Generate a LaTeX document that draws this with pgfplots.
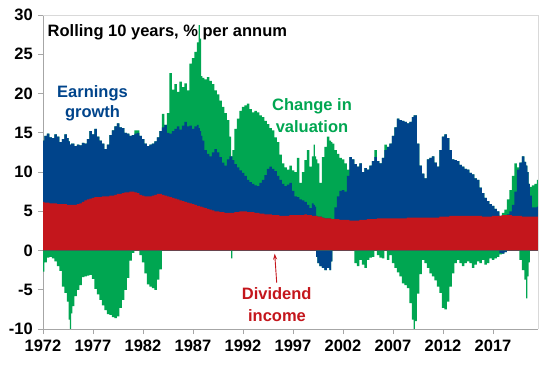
\documentclass[border=0pt]{standalone}
\usepackage{fontspec}
\setmainfont{Liberation Sans}
\usepackage{pgfplots}
\pgfplotsset{compat=1.18}
\usepackage{pgfplotstable}
\usetikzlibrary{arrows.meta}
\definecolor{cblue}{RGB}{0,68,139}
\definecolor{cgreen}{RGB}{0,166,81}
\definecolor{cred}{RGB}{196,22,28}
\pgfplotstableread{
yr D B G Bn Gn
1972.00 6.2 14.0 14.0 0 -2.7
1972.25 6.1 14.6 14.6 0 -1.5
1972.50 6.1 14.9 14.9 0 -0.9
1972.75 6.0 14.4 14.4 0 -0.8
1973.00 6.0 14.3 14.3 0 -1.0
1973.25 6.0 14.8 14.8 0 -1.4
1973.50 5.9 14.5 14.5 0 -2.0
1973.75 5.9 13.8 13.8 0 -2.6
1974.00 5.9 14.2 14.2 0 -4.6
1974.25 5.9 14.8 14.8 0 -5.4
1974.50 5.8 14.3 14.3 0 -6.5
1974.625 5.8 13.9 13.9 0 -8.8
1974.75 5.8 13.5 13.5 0 -10.0
1974.875 5.8 13.6 13.6 0 -8.0
1975.00 5.8 13.6 13.6 0 -7.1
1975.25 5.8 13.3 13.3 0 -5.8
1975.50 5.9 13.5 13.5 0 -5.0
1975.75 6.0 13.4 13.4 0 -4.4
1976.00 6.2 13.7 13.7 0 -3.4
1976.25 6.4 13.6 13.6 0 -3.3
1976.50 6.5 14.2 14.2 0 -3.2
1976.75 6.6 15.2 15.2 0 -3.1
1977.00 6.7 14.8 14.8 0 -3.6
1977.25 6.8 15.5 15.5 0 -4.9
1977.50 6.8 14.5 14.5 0 -5.6
1977.75 6.8 14.0 14.0 0 -6.3
1978.00 6.9 13.6 13.6 0 -7.0
1978.25 6.9 12.9 12.9 0 -7.6
1978.50 6.9 13.5 13.5 0 -8.1
1978.75 7.0 14.7 14.7 0 -8.2
1979.00 7.0 15.3 15.3 0 -8.5
1979.25 7.1 15.8 15.8 0 -8.6
1979.50 7.2 16.2 16.2 0 -8.4
1979.75 7.2 15.7 15.7 0 -7.3
1980.00 7.3 15.6 15.6 0 -6.3
1980.25 7.4 15.0 15.0 0 -5.0
1980.50 7.4 14.9 14.9 0 -3.5
1980.75 7.5 14.6 14.6 0 -1.3
1981.00 7.5 14.7 14.7 0 -0.3
1981.25 7.4 14.9 15.3 0 0
1981.50 7.3 15.0 15.3 0 0
1981.75 7.1 14.6 14.6 0 -0.6
1982.00 7.0 14.2 14.2 0 -1.5
1982.25 6.9 13.6 13.6 0 -2.9
1982.50 6.9 13.3 13.3 0 -4.3
1982.75 6.9 13.5 13.5 0 -4.6
1983.00 7.0 13.6 13.6 0 -4.8
1983.25 7.1 13.9 13.9 0 -5.0
1983.50 7.2 14.4 14.4 0 -3.7
1983.75 7.2 15.2 15.2 0 -2.4
1984.00 7.1 15.7 17.4 0 0
1984.25 7.0 16.0 16.0 0 0
1984.50 6.9 15.0 17.5 0 0
1984.75 6.8 14.9 22.6 0 0
1985.00 6.7 15.2 20.5 0 0
1985.25 6.6 15.5 21.2 0 0
1985.50 6.5 15.8 20.2 0 0
1985.75 6.4 15.4 21.5 0 0
1986.00 6.3 15.9 20.8 0 0
1986.25 6.2 16.4 21.3 0 0
1986.50 6.1 15.8 20.4 0 0
1986.75 6.0 15.9 23.8 0 0
1987.00 5.9 15.5 24.5 0 0
1987.25 5.8 15.8 25.3 0 0
1987.50 5.7 16.0 26.5 0 0
1987.625 5.7 15.6 28.7 0 0
1987.75 5.6 15.2 27.0 0 0
1987.875 5.6 14.6 22.2 0 0
1988.00 5.5 14.0 22.0 0 0
1988.25 5.4 12.8 21.8 0 0
1988.50 5.3 12.3 22.1 0 0
1988.75 5.2 12.0 21.6 0 0
1989.00 5.1 12.5 21.2 0 0
1989.25 5.0 12.9 20.4 0 0
1989.50 5.0 12.5 19.9 0 0
1989.75 4.9 11.9 19.1 0 0
1990.00 4.9 11.2 18.3 0 0
1990.25 4.8 10.8 17.5 0 0
1990.50 4.8 11.6 16.6 0 0
1990.75 4.8 12.0 14.5 0 0
1990.875 4.8 12.0 12.0 0 -1.0
1991.00 4.8 11.5 12.8 0 0
1991.25 4.9 11.0 15.5 0 0
1991.50 4.9 10.6 16.8 0 0
1991.75 5.0 10.2 17.8 0 0
1992.00 5.0 9.9 18.3 0 0
1992.25 5.0 9.5 18.5 0 0
1992.50 4.9 9.0 18.7 0 0
1992.75 4.9 8.7 18.0 0 0
1993.00 4.9 8.5 17.6 0 0
1993.25 4.8 8.3 17.8 0 0
1993.50 4.8 8.2 17.6 0 0
1993.75 4.7 8.6 17.2 0 0
1994.00 4.7 9.0 17.0 0 0
1994.25 4.6 9.6 16.5 0 0
1994.50 4.6 10.4 16.1 0 0
1994.75 4.6 10.7 15.6 0 0
1995.00 4.5 10.4 15.3 0 0
1995.25 4.5 10.1 14.4 0 0
1995.50 4.5 9.5 13.8 0 0
1995.75 4.4 9.0 12.2 0 0
1996.00 4.4 8.5 11.1 0 0
1996.25 4.4 8.2 10.6 0 0
1996.50 4.4 8.4 10.3 0 0
1996.75 4.5 8.6 10.8 0 0
1997.00 4.5 7.6 10.2 0 0
1997.25 4.5 6.9 10.0 0 0
1997.50 4.5 6.8 11.8 0 0
1997.75 4.5 6.5 8.6 0 0
1998.00 4.5 6.4 10.0 0 0
1998.25 4.6 6.2 11.5 0 0
1998.50 4.5 5.8 12.8 0 0
1998.75 4.5 5.4 10.7 0 0
1999.00 4.4 6.0 12.0 0 0
1999.125 4.4 5.8 13.5 0 0
1999.25 4.4 5.6 12.0 0 0
1999.375 4.4 4.4 11.6 -0.8 -0.8
1999.50 4.3 4.3 11.1 -1.6 -1.6
1999.75 4.3 4.3 8.6 -2.0 -2.0
2000.00 4.2 4.2 11.9 -2.2 -2.2
2000.25 4.1 4.1 13.2 -2.5 -2.5
2000.50 4.1 4.1 14.5 -2.2 -2.2
2000.75 4.1 4.1 14.0 -2.5 -2.5
2000.875 4.0 4.0 13.8 -1.4 -1.4
2001.00 4.0 4.0 13.6 0 0
2001.25 4.0 5.5 12.8 0 0
2001.50 4.0 6.9 12.3 0 0
2001.75 3.9 7.6 11.8 0 0
2002.00 3.9 7.7 11.6 0 0
2002.25 3.9 7.5 11.1 0 0
2002.50 3.9 9.5 10.3 0 0
2002.75 3.8 11.9 11.9 0 0
2003.00 3.8 11.6 11.6 0 0
2003.25 3.8 11.0 11.0 0 -1.6
2003.50 3.8 10.7 10.7 0 -2.0
2003.75 3.9 11.1 11.1 0 -1.2
2004.00 3.9 10.0 10.0 0 -1.8
2004.25 3.9 10.5 10.5 0 -2.2
2004.50 4.0 10.3 10.3 0 -1.2
2004.75 4.0 10.8 10.8 0 -0.9
2005.00 4.0 11.4 11.4 0 -0.8
2005.25 4.0 11.9 12.8 0 0
2005.50 4.1 11.4 11.4 0 -0.6
2005.75 4.1 11.1 11.1 0 -0.9
2006.00 4.1 11.8 11.8 0 -1.0
2006.25 4.1 12.8 13.5 0 0
2006.50 4.1 13.2 13.2 0 -1.2
2006.75 4.1 13.6 13.6 0 -0.6
2007.00 4.1 14.6 14.6 0 -1.6
2007.25 4.1 15.7 15.7 0 -2.2
2007.50 4.1 16.8 16.8 0 -2.8
2007.75 4.1 16.6 16.6 0 -3.3
2008.00 4.1 16.5 16.5 0 -4.2
2008.25 4.1 16.4 16.4 0 -4.4
2008.50 4.2 16.2 16.2 0 -4.8
2008.75 4.2 16.4 16.4 0 -6.7
2009.00 4.2 17.0 17.0 0 -8.8
2009.125 4.2 17.2 17.2 0 -10.0
2009.25 4.2 17.2 17.2 0 -9.0
2009.50 4.2 13.6 13.6 0 -5.5
2009.75 4.2 10.8 10.8 0 -3.0
2010.00 4.2 9.8 9.8 0 -1.2
2010.25 4.2 9.2 9.2 0 -1.6
2010.50 4.2 11.6 11.6 0 -2.2
2010.75 4.2 11.8 11.8 0 -2.9
2011.00 4.2 12.0 12.0 0 -3.3
2011.25 4.2 11.2 11.2 0 -3.8
2011.50 4.2 10.7 10.7 0 -4.6
2011.75 4.3 12.8 12.8 0 -5.4
2012.00 4.3 14.5 14.5 0 -7.3
2012.25 4.3 14.8 14.8 0 -7.5
2012.50 4.3 14.3 14.3 0 -6.5
2012.75 4.4 12.8 12.8 0 -4.6
2013.00 4.4 11.6 11.6 0 -2.9
2013.25 4.4 11.5 11.5 0 -1.6
2013.50 4.4 11.4 11.4 0 -1.2
2013.75 4.4 10.9 10.9 0 -1.6
2014.00 4.4 10.7 10.7 0 -2.0
2014.25 4.4 10.4 10.4 0 -1.6
2014.50 4.4 10.3 10.3 0 -1.4
2014.75 4.4 9.9 9.9 0 -1.6
2015.00 4.4 9.7 9.7 0 -2.2
2015.25 4.4 9.2 9.2 0 -1.8
2015.50 4.4 9.0 9.0 0 -1.4
2015.75 4.4 8.0 8.0 0 -1.6
2016.00 4.3 7.3 7.3 0 -1.2
2016.25 4.3 6.7 6.7 0 -1.8
2016.50 4.3 6.3 6.3 0 -1.6
2016.75 4.3 5.9 5.9 0 -1.0
2017.00 4.4 5.7 5.7 0 -1.2
2017.25 4.4 5.3 5.3 0 -1.0
2017.50 4.4 5.0 5.0 0 -0.8
2017.75 4.4 4.4 4.4 -0.3 -0.5
2018.00 4.5 4.5 4.8 -0.4 -0.4
2018.25 4.5 4.5 5.2 -0.2 -0.2
2018.50 4.5 4.6 6.5 0 0
2018.75 4.5 5.0 7.7 0 0
2019.00 4.4 5.8 9.5 0 0
2019.25 4.4 7.5 11.1 0 0
2019.50 4.4 10.3 10.6 0 0
2019.75 4.4 11.2 11.2 0 -1.2
2020.00 4.3 12.0 12.0 0 -2.5
2020.25 4.3 11.3 11.3 0 -3.7
2020.375 4.3 10.8 10.8 0 -6.1
2020.50 4.3 10.0 10.0 0 -3.3
2020.625 4.3 8.5 8.5 0 -1.5
2020.75 4.3 7.0 8.1 0 0
2021.00 4.3 5.5 8.3 0 0
2021.25 4.3 5.5 8.5 0 0
2021.50 4.3 5.6 9.0 0 0
}\data
\begin{document}
\begin{tikzpicture}
\path[use as bounding box] (0,0) rectangle (548bp,366bp);
\begin{axis}[
  at={(43bp,37bp)}, anchor=south west,
  scale only axis, width=495bp, height=314bp,
  xmin=1972, xmax=2021.5, ymin=-10, ymax=30,
  axis lines=left,
  axis line style={-, draw=black!35, line width=0.8bp},
  tick align=outside, major tick length=5bp,
  tick style={draw=black!35, line width=0.8bp},
  xtick={1972,1977,1982,1987,1992,1997,2002,2007,2012,2017},
  xticklabels={1972,1977,1982,1987,1992,1997,2002,2007,2012,2017},
  ytick={-10,-5,0,5,10,15,20,25,30},
  yticklabels={-10,-5,0,5,10,15,20,25,30},
  ticklabel style={font=\fontsize{16.5bp}{19bp}\selectfont\bfseries},
  xticklabel style={inner sep=0pt, yshift=-6bp},
  yticklabel style={inner sep=0pt, xshift=-5bp},
  every axis plot/.append style={const plot mark mid},
]
\addplot[fill=cgreen, draw=none] table[x=yr, y=G] {\data} \closedcycle;
\addplot[fill=cblue, draw=none] table[x=yr, y=B] {\data} \closedcycle;
\addplot[fill=cred, draw=none] table[x=yr, y=D] {\data} \closedcycle;
\addplot[fill=cgreen, draw=none] table[x=yr, y=Gn] {\data} \closedcycle;
\addplot[fill=cblue, draw=none] table[x=yr, y=Bn] {\data} \closedcycle;
\node[anchor=base west, inner sep=0pt, font=\fontsize{16.5bp}{19bp}\selectfont\bfseries] at (axis cs:1972.45,27.2) {Rolling 10 years, \% per annum};
\node[anchor=base, inner sep=0pt, text=cblue, font=\fontsize{16.5bp}{19bp}\selectfont\bfseries] at (axis cs:1976.95,19.55) {Earnings};
\node[anchor=base, inner sep=0pt, text=cblue, font=\fontsize{16.5bp}{19bp}\selectfont\bfseries] at (axis cs:1976.95,17.0) {growth};
\node[anchor=base, inner sep=0pt, text=cgreen, font=\fontsize{16.5bp}{19bp}\selectfont\bfseries] at (axis cs:1998.9,17.8) {Change in};
\node[anchor=base, inner sep=0pt, text=cgreen, font=\fontsize{16.5bp}{19bp}\selectfont\bfseries] at (axis cs:1998.9,15.0) {valuation};
\node[anchor=base, inner sep=0pt, text=cred, font=\fontsize{16.5bp}{19bp}\selectfont\bfseries] at (axis cs:1995.37,-6.2) {Dividend};
\node[anchor=base, inner sep=0pt, text=cred, font=\fontsize{16.5bp}{19bp}\selectfont\bfseries] at (axis cs:1995.4,-9.0) {income};
\draw[-{Stealth[length=6bp,width=4bp]}, cred, line width=0.9bp] (axis cs:1995.37,-4.1) -- (axis cs:1995.17,-0.4);
\end{axis}
\draw[black!15, line width=0.8bp] (current axis.north west) -- (current axis.north east) -- (current axis.south east);
\end{tikzpicture}
\end{document}
